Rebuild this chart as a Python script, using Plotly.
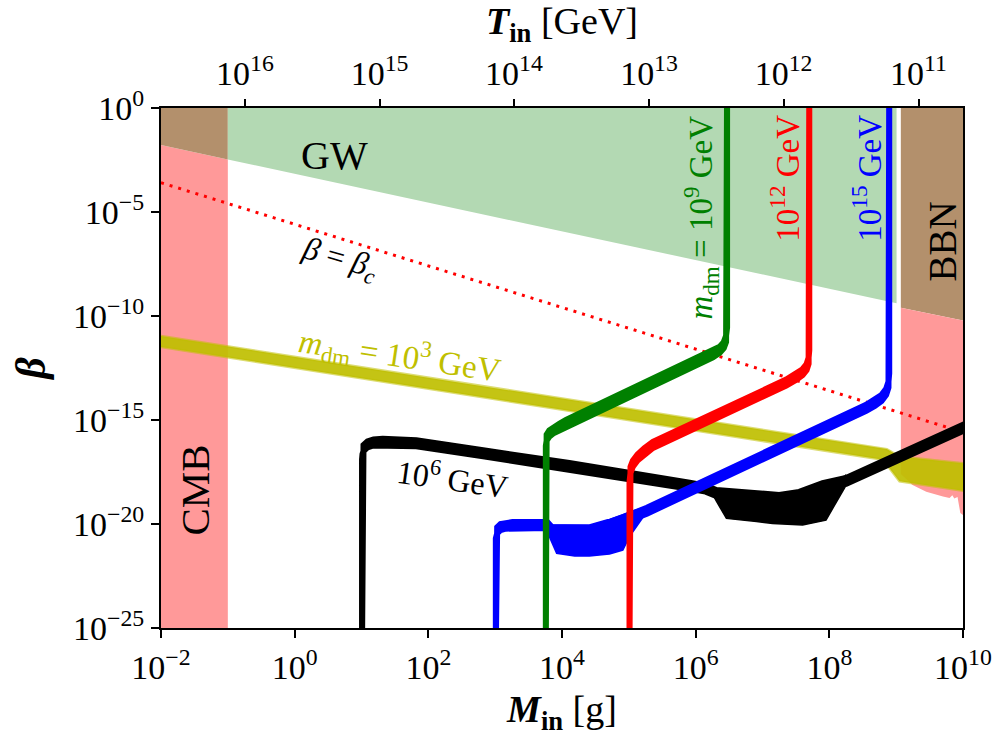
import numpy as np
import plotly.graph_objects as go

# ---------------------------------------------------------------------------
# Data (log10 M_in [g], log10 beta)
# ---------------------------------------------------------------------------
M_RANGE = [-2, 10]
B_RANGE = [-25, 0]

# gravitational-wave bound (lower edge of excluded region)
gw_logM = [-2.0, 9.006]
gw_logb = [-1.78, -9.39]
cmb_logM_max = -1.0          # CMB excludes M < 0.1 g
gw_logM_min = -1.0
bbn_top_logM = [9.07, 10.0]
bbn_top_logb = [-9.6, -10.22]
bbn_low_logM = [9.07, 9.245, 9.45, 9.604, 9.70, 9.799, 9.84, 9.87, 9.918, 9.96, 10.0]
bbn_low_logb = [-17.6, -18.12, -18.45, -18.61, -18.68, -18.75, -18.62, -18.78, -18.70, -19.47, -19.57]

# beta = beta_c
betac_logM = [-2.0, 10.0]
betac_logb = [-3.59, -15.59]

# m_dm = 1e3 GeV (band edges)
y3_logM = [-2.0, 8.78, 8.86, 9.05, 10.0]
y3_top = [-10.96, -16.33, -16.40, -16.76, -17.08]
y3_bot = [-11.49, -16.90, -17.15, -17.95, -18.40]

# m_dm = 1e6 GeV (centre line)
k6_logM = [1.008, 1.008, 1.015, 1.03, 1.09, 1.18, 1.318, 1.82, 2.82, 4.11, 5.91, 6.15,
           6.31, 6.91, 7.25, 7.55, 7.90, 8.25, 10.0]
k6_logb = [-26.0, -16.75, -16.5, -16.35, -16.17, -16.08, -16.05, -16.12, -16.60, -17.21,
           -18.16, -18.30, -18.51, -18.70, -18.75, -18.60, -18.18, -17.93, -15.38]
# widened part of the 1e6 GeV band
k6b_logM = [6.15, 6.26, 6.31, 6.46, 6.91, 7.15, 7.25, 7.55, 7.60, 7.90, 7.95, 8.23, 8.25]
k6b_top = [-18.15, -18.3, -18.37, -18.45, -18.56, -18.59, -18.61, -18.45, -18.42, -18.04, -18.0, -17.7, -17.64]
k6b_bot = [-18.45, -18.6, -18.9, -19.73, -19.88, -19.97, -20.0, -20.04, -20.05, -19.85, -19.81, -18.25, -18.1]

# m_dm = 1e9 GeV (centre line)
g9_logM = [3.758, 3.758, 3.77, 3.81, 3.88, 3.96, 4.06, 6.257, 6.36, 6.42, 6.455, 6.47, 6.47]
g9_logb = [-26.0, -16.1, -15.85, -15.65, -15.48, -15.33, -15.14, -11.85, -11.62, -11.40, -11.10, -10.70, 1.0]

# m_dm = 1e12 GeV (centre line)
r12_logM = [5.01, 5.01, 5.025, 5.06, 5.13, 5.23, 5.36, 7.355, 7.50, 7.60, 7.66, 7.69, 7.70, 7.70]
r12_logb = [-26.0, -17.85, -17.40, -17.10, -16.80, -16.50, -16.20, -13.20, -12.93, -12.70, -12.45, -12.15, -11.80, 1.0]

# m_dm = 1e15 GeV (centre line)
b15_logM = [3.01, 3.01, 3.03, 3.08, 3.16, 3.26, 3.78, 3.85, 4.41, 4.67, 5.01, 5.27,
            8.552, 8.68, 8.78, 8.85, 8.885, 8.896, 8.896]
b15_logb = [-26.0, -20.55, -20.30, -20.15, -20.08, -20.05, -20.05, -20.30, -20.34, -20.10,
            -19.70, -19.36, -14.41, -14.18, -13.95, -13.65, -13.30, -12.90, 1.0]
# widened part of the 1e15 GeV band
b15b_logM = [3.78, 3.84, 3.92, 4.19, 4.41, 4.67, 4.71, 4.91, 5.01, 5.235, 5.265]
b15b_top = [-19.85, -20.05, -20.05, -20.05, -20.05, -19.81, -19.78, -19.55, -19.42, -19.2, -19.18]
b15b_bot = [-20.38, -20.77, -21.41, -21.54, -21.54, -21.46, -21.44, -21.25, -20.6, -19.57, -19.4]

# top axis: T_in tick positions on the M_in scale
tin_exp = [16, 15, 14, 13, 12, 11]
tin_logM = [-0.743, 1.270, 3.282, 5.302, 7.315, 9.335]

# ---------------------------------------------------------------------------
FONT = "Liberation Serif"
GREEN_FILL = "rgb(179,217,179)"
RED_FILL = "rgb(255,153,153)"
BROWN_FILL = "rgb(179,144,108)"
OLIVE = "rgb(191,191,0)"
HALF = 0.144   # half thickness of the relic-abundance bands (decades)


def p10(a):
    return np.power(10.0, np.asarray(a, dtype=float))


fig = go.Figure()


def region(xl, yl, color):
    fig.add_trace(go.Scatter(x=p10(xl), y=p10(yl), mode="lines", fill="toself",
                             fillcolor=color, line=dict(width=0, color=color),
                             hoverinfo="skip", showlegend=False))


def gw_line(m):
    slope = (gw_logb[1] - gw_logb[0]) / (gw_logM[1] - gw_logM[0])
    return gw_logb[0] + slope * (m - gw_logM[0])


# CMB: red below the GW line, brown above
m_c = [M_RANGE[0], cmb_logM_max]
region([m_c[0], m_c[1], m_c[1], m_c[0]], [-26, -26, gw_line(m_c[1]), gw_line(m_c[0])], RED_FILL)
region([m_c[0], m_c[1], m_c[1], m_c[0]], [gw_line(m_c[0]), gw_line(m_c[1]), 1, 1], BROWN_FILL)
# GW region
region([gw_logM_min, gw_logM[1], gw_logM[1], gw_logM_min],
       [gw_line(gw_logM_min), gw_logb[1], 1, 1], GREEN_FILL)
# BBN: brown top, red below
region(bbn_top_logM + bbn_top_logM[::-1], bbn_top_logb + [1, 1], BROWN_FILL)
region(bbn_low_logM + bbn_top_logM[::-1], bbn_low_logb + bbn_top_logb[::-1], RED_FILL)

# beta = beta_c
fig.add_trace(go.Scatter(x=p10(betac_logM), y=p10(betac_logb), mode="lines",
                         line=dict(color="red", width=3, dash="3px,6px"),
                         hoverinfo="skip", showlegend=False))

# m_dm = 1e3 GeV band
fig.add_trace(go.Scatter(x=p10(y3_logM + y3_logM[::-1]), y=p10(y3_top + y3_bot[::-1]),
                         mode="lines", fill="toself", fillcolor="rgba(191,191,0,0.92)",
                         line=dict(color="rgba(191,191,0,0.55)", width=2.5),
                         hoverinfo="skip", showlegend=False))


def band(lm, lb, color, extra=None):
    lm = np.asarray(lm, float)
    lb = np.asarray(lb, float)
    xs = np.concatenate([lm, lm[::-1]])
    ys = np.concatenate([lb + HALF, (lb - HALF)[::-1]])
    if extra is not None:
        em, et, eb = (np.asarray(a, float) for a in extra)
        fig.add_trace(go.Scatter(x=p10(np.concatenate([em, em[::-1]])),
                                 y=p10(np.concatenate([et, eb[::-1]])),
                                 mode="lines", fill="toself", fillcolor=color,
                                 line=dict(color=color, width=1.5),
                                 hoverinfo="skip", showlegend=False))
    fig.add_trace(go.Scatter(x=p10(xs), y=p10(ys), mode="lines", fill="toself",
                             fillcolor=color, line=dict(color=color, width=6),
                             hoverinfo="skip", showlegend=False))


band(k6_logM, k6_logb, "black", (k6b_logM, k6b_top, k6b_bot))
band(b15_logM, b15_logb, "blue", (b15b_logM, b15b_top, b15b_bot))
band(g9_logM, g9_logb, "green")
band(r12_logM, r12_logb, "red")

# dummy trace carrying the top axis
fig.add_trace(go.Scatter(x=p10(M_RANGE), y=p10([B_RANGE[0], B_RANGE[0]]), xaxis="x2",
                         mode="markers", marker=dict(opacity=0), hoverinfo="skip",
                         showlegend=False))

# ---------------------------------------------------------------------------
# Axes
# ---------------------------------------------------------------------------
x_exp = list(range(-2, 11, 2))
y_exp = list(range(-25, 1, 5))


def pw(e):
    return "10<sup>%s</sup>" % (str(e).replace("-", "\u2212"))


tick_font = dict(family=FONT, size=34, color="black")
axis_common = dict(type="log", showgrid=False, zeroline=False, ticks="outside",
                   ticklen=8, tickwidth=1.5, tickcolor="black", tickfont=tick_font,
                   automargin=False)

fig.update_layout(
    width=1003, height=736, autosize=False,
    margin=dict(l=161, r=40, t=108, b=108),
    paper_bgcolor="white", plot_bgcolor="white",
    xaxis=dict(range=M_RANGE, tickvals=p10(x_exp), ticktext=[pw(e) for e in x_exp],
               showline=True, linewidth=2, linecolor="black", mirror=True,
               title=dict(text="<b><i>M</i><sub>in</sub></b> [g]",
                          font=dict(family=FONT, size=38, color="black"), standoff=22),
               **axis_common),
    xaxis2=dict(range=M_RANGE, overlaying="x", side="top",
                tickvals=p10(tin_logM), ticktext=[pw(e) for e in tin_exp],
                showline=False,
                title=dict(text="<b><i>T</i><sub>in</sub></b> [GeV]",
                           font=dict(family=FONT, size=38, color="black"), standoff=10),
                **axis_common),
    yaxis=dict(range=B_RANGE, tickvals=p10(y_exp), ticktext=[pw(e) for e in y_exp],
               showline=True, linewidth=2, linecolor="black", mirror=True,
               title=dict(text="<b><i>β</i></b>",
                          font=dict(family=FONT, size=42, color="black"), standoff=14),
               **axis_common),
)

# ---------------------------------------------------------------------------
# Labels
# ---------------------------------------------------------------------------
def label(text, x, y, color="black", size=32, angle=0):
    fig.add_annotation(text=text, x=x, y=y, xref="x", yref="y", showarrow=False,
                       textangle=angle, font=dict(family=FONT, size=size, color=color))


label("GW", 0.596, -2.26, size=40)
label("<i>β</i> = <i>β</i><sub><i>c</i></sub>", 0.671, -7.3, size=32, angle=16)
label("<i>m</i><sub>dm</sub> = 10<sup>3</sup> GeV", 1.569, -11.875, color=OLIVE, size=33, angle=8.5)
label("10<sup>6</sup> GeV", 2.362, -17.74, size=32, angle=8)
label("<i>m</i><sub>dm</sub> = 10<sup>9</sup> GeV", 6.073, -5.29, color="green", size=33, angle=-90)
label("10<sup>12</sup> GeV", 7.345, -3.37, color="red", size=33, angle=-90)
label("10<sup>15</sup> GeV", 8.572, -3.37, color="blue", size=33, angle=-90)
label("BBN", 9.694, -6.44, size=39, angle=-90)
label("CMB", -1.484, -18.37, size=41, angle=-90)

fig.write_html("out.html")
